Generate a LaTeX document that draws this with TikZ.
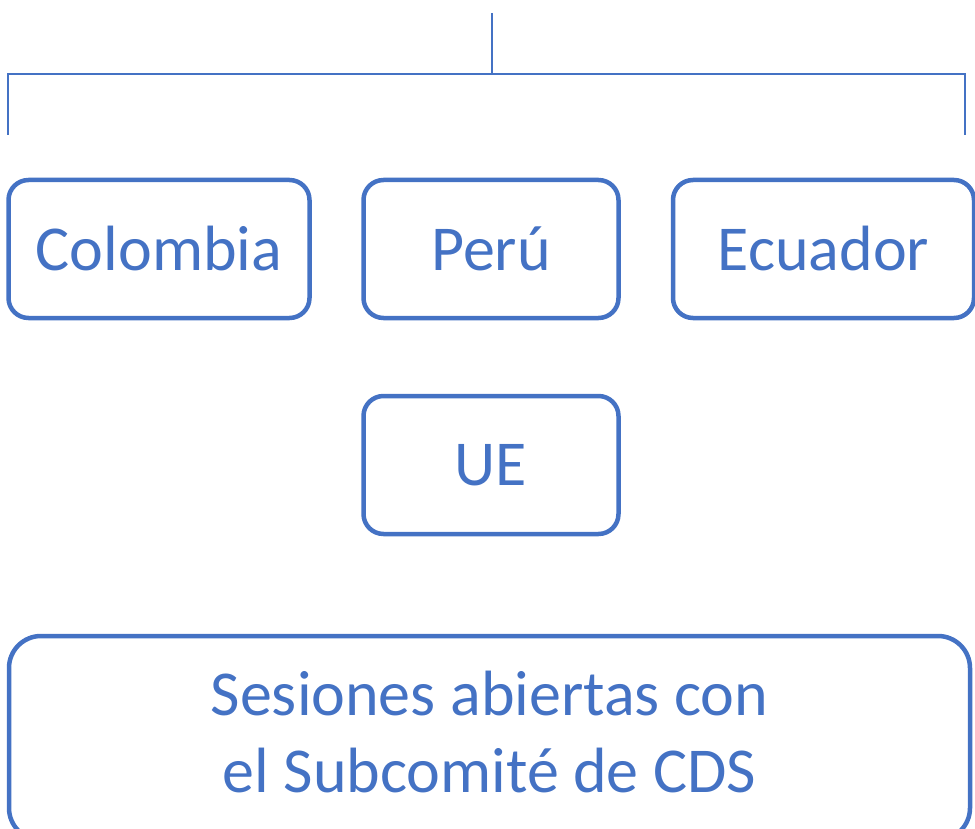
\documentclass[tikz,border=0pt]{standalone}
\usepackage{fontspec}
\setmainfont{Carlito}
\definecolor{azul}{HTML}{4472C4}

\tikzset{
  caja/.style={draw=azul, line width=4.5pt, rounded corners=20pt,
    minimum height=138pt, inner sep=0pt, text=azul,
    font=\fontsize{64}{77}\selectfont},
  enlace/.style={draw=azul, line width=2pt}
}

\begin{document}
\begin{tikzpicture}[x=1pt, y=-1pt]
    \useasboundingbox (0,0) rectangle (975,829);

    \clip (0,0) rectangle (975,829);



    \coordinate (arriba) at (492,13);

    \coordinate (centro) at (492,74);

    \coordinate (izq) at (7.5,135);

    \coordinate (der) at (965,135);

    \draw[enlace] (arriba) -- (centro);

    \draw[enlace] (izq) |- (centro) -| (der);



    \node[caja, minimum width=301pt] (colombia) at (159,249) {Colombia};

    \node[caja, minimum width=255pt] (peru) at (491,249) {Perú};

    \node[caja, minimum width=301pt] (ecuador) at (823.5,249) {Ecuador};

    \node[caja, minimum width=255pt] (ue) at (491,465) {UE};



    \node[caja, rounded corners=32pt, minimum width=961pt,
      minimum height=204pt, align=center, text depth=12pt]
      (sesiones) at (489.5,738) {Sesiones abiertas con\\el Subcomité de CDS};
  \end{tikzpicture}
\end{document}
